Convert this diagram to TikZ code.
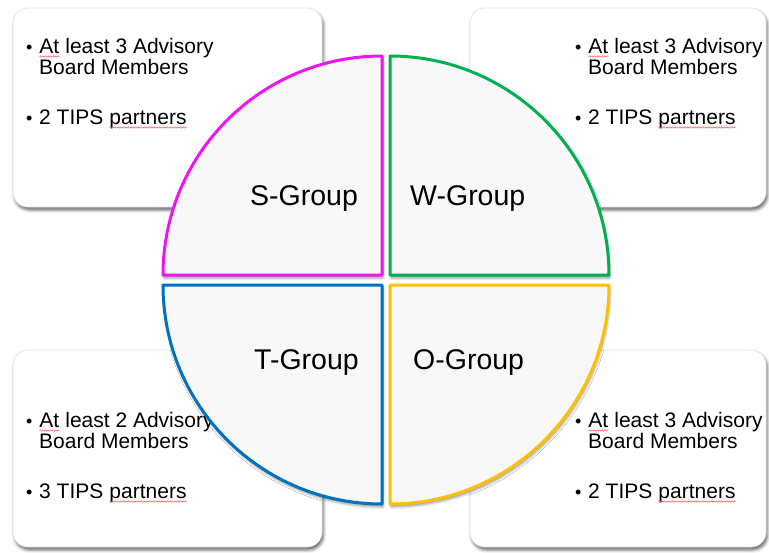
\documentclass[tikz,border=0pt]{standalone}
\usepackage{fontspec}
\setmainfont{Liberation Sans}
\usetikzlibrary{shadows.blur,decorations.pathmorphing}

\definecolor{sMag}{RGB}{240,20,240}
\definecolor{wGreen}{RGB}{0,176,80}
\definecolor{tBlue}{RGB}{0,112,192}
\definecolor{oGold}{RGB}{255,192,0}
\definecolor{pieFill}{RGB}{248,248,248}

\tikzset{
  card/.style={draw=gray!20, line width=0.8pt, fill=white, rounded corners=15pt,
    inner sep=0pt,
    blur shadow={shadow xshift=1.5pt, shadow yshift=-3pt, shadow blur radius=3pt, shadow opacity=60}},
  sector/.style={line width=3pt, fill=pieFill, line join=round,
    blur shadow={shadow xshift=1pt, shadow yshift=-3pt, shadow blur radius=2.5pt, shadow opacity=40}},
  grp/.style={anchor=base west, inner sep=0pt, font=\fontsize{28.5}{30}\selectfont},
  txt/.style={anchor=base west, inner sep=0pt, font=\fontsize{21}{22}\selectfont},
  bul/.style={anchor=base west, inner sep=0pt, font=\fontsize{18}{22}\selectfont},
  squig/.style={draw=red!65, line width=0.5pt, decorate,
    decoration={snake, amplitude=0.7pt, segment length=2.6pt}}
}

% word with a red wavy underline
\newcommand\wavy[1]{\tikz[baseline=(wv.base)]{\node[inner sep=0pt,outer sep=0pt] (wv) {#1};
  \draw[squig] ([yshift=-3.5pt]wv.base west) -- ([yshift=-3.5pt]wv.base east);}}

% bullet list of one card: name, x of bullet, first baseline, first line, last line
\newcommand\cardtext[5]{%
  \node[bul] (#1b1) at (#2,#3) {•};
  \node[txt] (#1l1) at ({#2+13},#3) {\wavy{At} #4};
  \node[txt] (#1l2) at ({#2+13},{#3+21}) {Board Members};
  \node[bul] (#1b2) at (#2,{#3+71}) {•};
  \node[txt] (#1l3) at ({#2+13},{#3+71}) {#5 \wavy{partners}};
}

\begin{document}
\begin{tikzpicture}[x=1pt,y=-1pt]
\useasboundingbox (0,0) rectangle (769,552);

% four cards
\node[card, minimum width=309pt, minimum height=199pt] (cardS) at (167.5,107.5) {};
\node[card, minimum width=296pt, minimum height=199pt] (cardW) at (618,107.5) {};
\node[card, minimum width=309pt, minimum height=197pt] (cardT) at (167.5,448.5) {};
\node[card, minimum width=296pt, minimum height=197pt] (cardO) at (618,448.5) {};

\cardtext{s}{26}{53}{least 3 Advisory}{2 TIPS}
\cardtext{w}{575}{53}{least 3 Advisory}{2 TIPS}
\cardtext{t}{26}{427}{least 2 Advisory}{3 TIPS}
\cardtext{o}{575}{427}{least 3 Advisory}{2 TIPS}

% the four quarter circles
\path[sector, draw=sMag]   (382,275) -- ++(-219,0) arc[start angle=180, end angle=90, radius=219pt] -- cycle;
\path[sector, draw=wGreen] (390,275) -- ++(0,-219) arc[start angle=90, end angle=0, radius=219pt] -- cycle;
\path[sector, draw=tBlue]  (382,285) -- ++(-219,0) arc[start angle=180, end angle=270, radius=219pt] -- cycle;
\path[sector, draw=oGold]  (390,285) -- ++(219,0) arc[start angle=0, end angle=-90, radius=219pt] -- cycle;

\node[grp] (gS) at (250,205) {S-Group};
\node[grp] (gW) at (410,205) {W-Group};
\node[grp] (gT) at (254,369) {T-Group};
\node[grp] (gO) at (413,369) {O-Group};
\end{tikzpicture}
\end{document}
